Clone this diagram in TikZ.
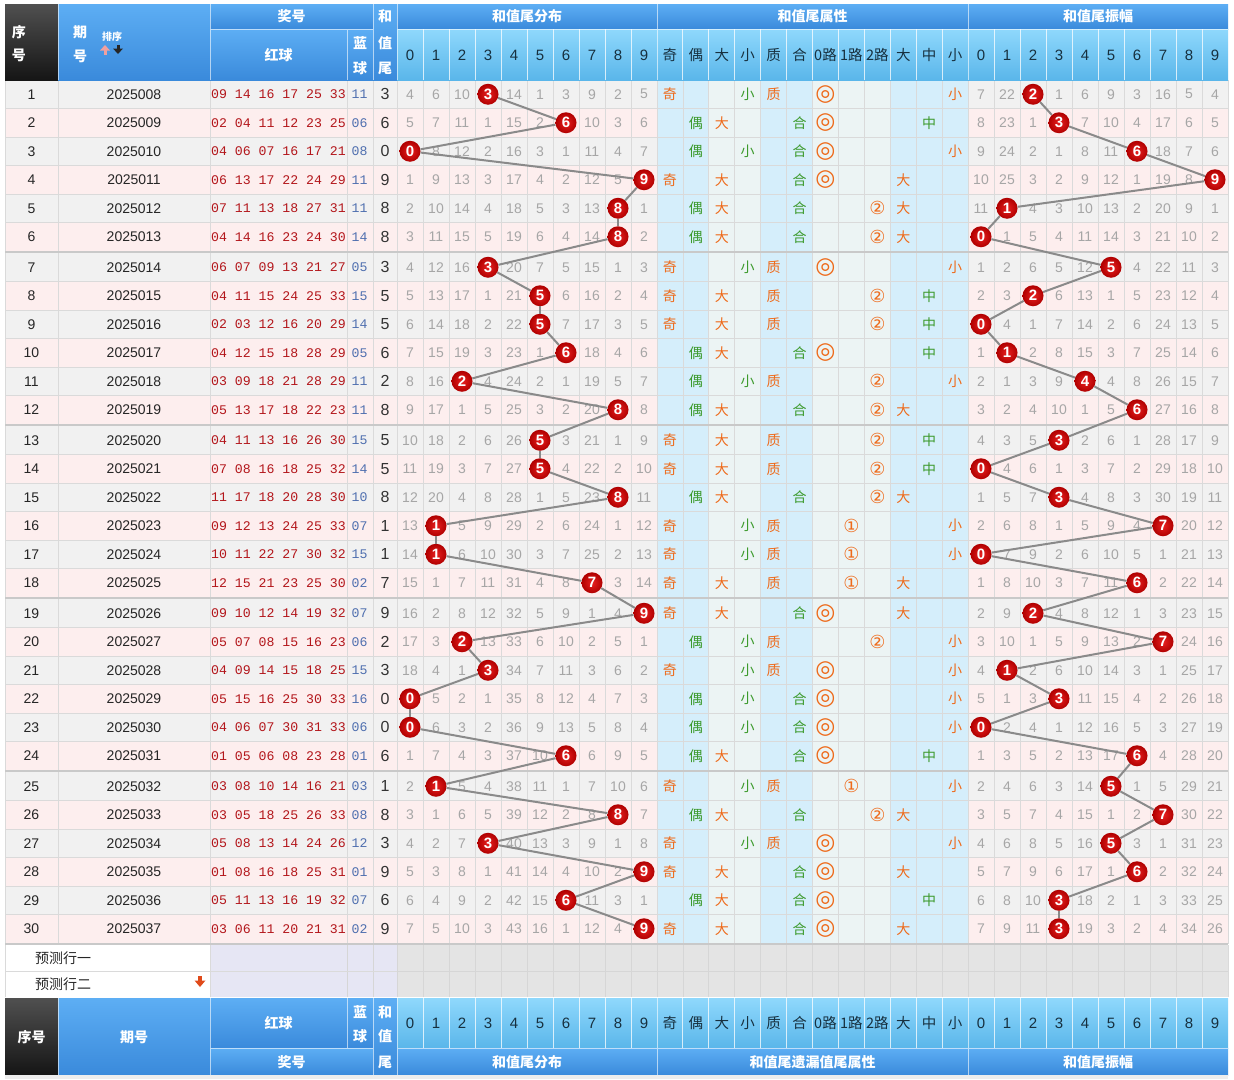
\documentclass[tikz,border=0pt]{standalone}
\usepackage{fontspec}
\setmainfont{Liberation Sans}
\newfontfamily\cjk{Noto Sans CJK SC}
\newfontfamily\symf{DejaVu Sans}
\newfontfamily\monof{Liberation Mono}
\definecolor{hbTop}{HTML}{5DAEF4}
\definecolor{hbBot}{HTML}{3A8ADB}
\definecolor{hlTop}{HTML}{8FD8FC}
\definecolor{hlBot}{HTML}{5AB6EA}
\definecolor{hdTop}{HTML}{505050}
\definecolor{hdBot}{HTML}{151515}
\definecolor{rowg}{HTML}{F1F1F1}
\definecolor{rowp}{HTML}{FDEEEE}
\definecolor{atb}{HTML}{D5EEFB}
\definecolor{atg}{HTML}{ECF4F4}
\definecolor{gridc}{HTML}{DADADA}
\definecolor{sepc}{HTML}{C9C9C9}
\definecolor{redt}{HTML}{B3161B}
\definecolor{bluet}{HTML}{4F6FAF}
\definecolor{omitc}{HTML}{A6A6A6}
\definecolor{orng}{HTML}{EE6A1A}
\definecolor{grn}{HTML}{3C9A2C}
\definecolor{ballin}{HTML}{E82020}
\definecolor{ballout}{HTML}{B00000}
\definecolor{linec}{HTML}{8A8A8A}
\definecolor{lav}{HTML}{E6E6F4}
\definecolor{predg}{HTML}{E4E4E4}
\definecolor{predl}{HTML}{D6D6D6}
\definecolor{hdtext}{HTML}{17303F}
\definecolor{uparr}{HTML}{F0A0A0}
\definecolor{arrred}{HTML}{E04A1A}
\tikzset{
  hdrw/.style={text=white, font=\cjk\bfseries\fontsize{14}{14}\selectfont, inner sep=0},
  hdrd/.style={text=hdtext, font=\cjk\fontsize{14.5}{14.5}\selectfont, inner sep=0},
  hdrdig/.style={text=hdtext, font=\fontsize{15}{15}\selectfont, inner sep=0},
  numt/.style={text=black!85, font=\fontsize{14}{14}\selectfont, inner sep=0},
  redn/.style={text=redt, font=\monof\fontsize{13.2}{13.2}\selectfont, inner sep=0},
  blun/.style={text=bluet, font=\monof\fontsize{13.2}{13.2}\selectfont, inner sep=0},
  tailn/.style={text=black!80, font=\fontsize{16}{16}\selectfont, inner sep=0},
  omit/.style={text=omitc, font=\fontsize{14}{14}\selectfont, inner sep=0},
  ball/.style={circle, minimum size=21pt, inner sep=0, inner color=ballin, outer color=ballout, text=white, font=\bfseries\fontsize{15}{15}\selectfont},
  attro/.style={text=orng, font=\cjk\fontsize{14}{14}\selectfont, inner sep=0},
  attrg/.style={text=grn, font=\cjk\fontsize{14}{14}\selectfont, inner sep=0},
  roadsym/.style={text=orng, font=\symf\fontsize{18}{18}\selectfont, inner sep=0},
  dblsym/.style={text=orng, font=\symf\fontsize{23}{23}\selectfont, inner sep=0},
  predt/.style={text=black!85, font=\cjk\fontsize{14}{14}\selectfont, inner sep=0, anchor=west},
  conn/.style={draw=linec, line width=2pt},
  gridl/.style={draw=gridc, line width=0.8pt},
  sepl/.style={draw=sepc, line width=2.6pt},
  hsep/.style={draw=white, line width=1pt, opacity=0.6},
}
\def\initd{3,5,9,0,13,0,2,8,1,4}
\def\inita{6,21,0,0,5,8,2,15,4,3}
\begin{document}
\begin{tikzpicture}[x=1pt,y=-1pt]
\useasboundingbox (0,0) rectangle (1234,1079);
\fill[white] (0,0) rectangle (1234,1079);
% ---------- row backgrounds
\foreach \kk in {1,...,30} {
  \pgfmathsetmacro\yt{80+173*floor((\kk-1)/6)+28.5*mod(\kk-1,6)}
  \pgfmathsetmacro\yb{\yt+28.5}
  \ifodd\kk\relax \def\rc{rowg}\else\def\rc{rowp}\fi
  \fill[\rc] (5,\yt) rectangle (657,\yb);
  \fill[\rc] (968,\yt) rectangle (1228,\yb);
}
\fill[atb] (657,80) rectangle (708.84,944);
\fill[atg] (708.84,80) rectangle (760.68,944);
\fill[atb] (760.68,80) rectangle (812.52,944);
\fill[atg] (812.52,80) rectangle (890.28,944);
\fill[atb] (890.28,80) rectangle (968,944);
% prediction rows
\fill[white] (5,945) rectangle (210,997);
\fill[lav] (210,945) rectangle (397,997);
\fill[predg] (397,945) rectangle (1228,997);
% ---------- grid
\foreach \xx in {5,58,210,347,373,397,423,449,475,501,527,553,579,605,631,657,682.92,708.84,734.76,760.68,786.6,812.52,838.44,864.36,890.28,916.2,942.12,968,994,1020,1046,1072,1098,1124,1150,1176,1202,1228}
  \draw[gridl] (\xx,80) -- (\xx,944);
\foreach \xx in {347,373,397,423,449,475,501,527,553,579,605,631,657,682.92,708.84,734.76,760.68,786.6,812.52,838.44,864.36,890.28,916.2,942.12,968,994,1020,1046,1072,1098,1124,1150,1176,1202}
  \draw[draw=predl, line width=0.8pt] (\xx,945) -- (\xx,997);
\draw[gridl] (5,945) -- (5,997) (210,945) -- (210,997) (1228,945) -- (1228,997);
\draw[gridl] (5,971) -- (397,971);
\draw[draw=predl, line width=0.8pt] (397,971) -- (1228,971);
\foreach \kk in {1,...,30} {
  \pgfmathsetmacro\yb{80+173*floor((\kk-1)/6)+28.5*mod(\kk-1,6)+28.5}
  \draw[gridl] (5,\yb) -- (1228,\yb);
}
\foreach \g in {1,...,5} {
  \pgfmathsetmacro\ys{80+173*\g-1}
  \draw[sepl] (5,\ys) -- (1228,\ys);
}
% ---------- data
\foreach \v [count=\i from 0] in \initd {\expandafter\xdef\csname dv\i\endcsname{\v}}
\foreach \v [count=\i from 0] in \inita {\expandafter\xdef\csname av\i\endcsname{\v}}
\foreach \kk/\per/\reds/\blu/\tail/\am in {
1/2025008/{09 14 16 17 25 33}/11/3/2,
2/2025009/{02 04 11 12 23 25}/06/6/3,
3/2025010/{04 06 07 16 17 21}/08/0/6,
4/2025011/{06 13 17 22 24 29}/11/9/9,
5/2025012/{07 11 13 18 27 31}/11/8/1,
6/2025013/{04 14 16 23 24 30}/14/8/0,
7/2025014/{06 07 09 13 21 27}/05/3/5,
8/2025015/{04 11 15 24 25 33}/15/5/2,
9/2025016/{02 03 12 16 20 29}/14/5/0,
10/2025017/{04 12 15 18 28 29}/05/6/1,
11/2025018/{03 09 18 21 28 29}/11/2/4,
12/2025019/{05 13 17 18 22 23}/11/8/6,
13/2025020/{04 11 13 16 26 30}/15/5/3,
14/2025021/{07 08 16 18 25 32}/14/5/0,
15/2025022/{11 17 18 20 28 30}/10/8/3,
16/2025023/{09 12 13 24 25 33}/07/1/7,
17/2025024/{10 11 22 27 30 32}/15/1/0,
18/2025025/{12 15 21 23 25 30}/02/7/6,
19/2025026/{09 10 12 14 19 32}/07/9/2,
20/2025027/{05 07 08 15 16 23}/06/2/7,
21/2025028/{04 09 14 15 18 25}/15/3/1,
22/2025029/{05 15 16 25 30 33}/16/0/3,
23/2025030/{04 06 07 30 31 33}/06/0/0,
24/2025031/{01 05 06 08 23 28}/01/6/6,
25/2025032/{03 08 10 14 16 21}/03/1/5,
26/2025033/{03 05 18 25 26 33}/08/8/7,
27/2025034/{05 08 13 14 24 26}/12/3/5,
28/2025035/{01 08 16 18 25 31}/01/9/6,
29/2025036/{05 11 13 16 19 32}/07/6/3,
30/2025037/{03 06 11 20 21 31}/02/9/3} {
  \pgfmathsetmacro\yc{80+173*floor((\kk-1)/6)+28.5*mod(\kk-1,6)+14.25}
  \node[numt] (sn\kk) at (31.5,\yc) {\kk};
  \node[numt] (pn\kk) at (134,\yc) {\per};
  \node[redn] (rb\kk) at (278.5,\yc) {\reds};
  \node[blun] (bb\kk) at (359.5,\yc) {\blu};
  \node[tailn] (tn\kk) at (385,\yc) {\tail};
  \foreach \cc in {0,...,9} {
    \pgfmathsetmacro\xx{410+26*\cc}
    \ifnum\cc=\tail\relax
      \node[ball] (d\kk) at (\xx,\yc) {\cc};
      \expandafter\xdef\csname dv\cc\endcsname{0}%
    \else
      \edef\nv{\the\numexpr\csname dv\cc\endcsname+1\relax}%
      \expandafter\xdef\csname dv\cc\endcsname{\nv}%
      \node[omit] (dn\kk-\cc) at (\xx,\yc) {\nv};
    \fi
  }
  \foreach \cc in {0,...,9} {
    \pgfmathsetmacro\xx{981+26*\cc}
    \ifnum\cc=\am\relax
      \node[ball] (a\kk) at (\xx,\yc) {\cc};
      \expandafter\xdef\csname av\cc\endcsname{0}%
    \else
      \edef\nv{\the\numexpr\csname av\cc\endcsname+1\relax}%
      \expandafter\xdef\csname av\cc\endcsname{\nv}%
      \node[omit] (an\kk-\cc) at (\xx,\yc) {\nv};
    \fi
  }
  \ifodd\tail\relax \node[attro] (oe\kk) at (669.96,\yc) {奇};\else \node[attrg] (oe\kk) at (695.88,\yc) {偶};\fi
  \ifnum\tail>4\relax \node[attro] (bs\kk) at (721.8,\yc) {大};\else \node[attrg] (bs\kk) at (747.72,\yc) {小};\fi
  \ifcase\tail\relax \def\zh{0}\or\def\zh{1}\or\def\zh{1}\or\def\zh{1}\or\def\zh{0}\or\def\zh{1}\or\def\zh{0}\or\def\zh{1}\or\def\zh{0}\or\def\zh{0}\fi
  \ifnum\zh=1\relax \node[attro] (pc\kk) at (773.64,\yc) {质};\else \node[attrg] (pc\kk) at (799.56,\yc) {合};\fi
  \pgfmathtruncatemacro\rd{mod(\tail,3)}
  \ifcase\rd\relax \node[dblsym] (rd\kk) at (825.48,\yc) {◎};\or \node[roadsym] (rd\kk) at (851.4,\yc) {①};\or \node[roadsym] (rd\kk) at (877.32,\yc) {②};\fi
  \ifnum\tail>6\relax \node[attro] (bm\kk) at (903.24,\yc) {大};\else\ifnum\tail>3\relax \node[attrg] (bm\kk) at (929.16,\yc) {中};\else \node[attro] (bm\kk) at (955.08,\yc) {小};\fi\fi
}
\foreach \kk [evaluate=\kk as \nk using int(\kk+1)] in {1,...,29} {
  \draw[conn] (d\kk) -- (d\nk);
  \draw[conn] (a\kk) -- (a\nk);
}
% prediction texts
\node[predt] (pr1) at (35,958) {预测行一};
\node[predt] (pr2) at (35,984) {预测行二};
\fill[arrred] (198,976) rectangle (202,981);
\fill[arrred] (194.5,980.5) -- (205.5,980.5) -- (200,987) -- cycle;
% ---------- header
\shade[top color=hdTop,bottom color=hdBot] (5,4) rectangle (58,80);
\shade[top color=hbTop,bottom color=hbBot] (58,4) rectangle (210,80);
\shade[top color=hbTop,bottom color=hbBot] (210,4) rectangle (373,29);
\shade[top color=hbTop,bottom color=hbBot] (210,29) rectangle (373,80);
\shade[top color=hbTop,bottom color=hbBot] (373,4) rectangle (397,80);
\shade[top color=hbTop,bottom color=hbBot] (397,4) rectangle (1228,29);
\shade[top color=hlTop,bottom color=hlBot] (397,29) rectangle (1228,80);
\draw[hsep] (210,4) -- (210,80) (373,4) -- (373,80) (397,4) -- (397,80) (657,4) -- (657,80) (968,4) -- (968,80)
  (347,29) -- (347,80) (210,29) -- (373,29) (397,29) -- (1228,29) (58,4) -- (58,80);
\foreach \xx in {423,449,475,501,527,553,579,605,631,682.92,708.84,734.76,760.68,786.6,812.52,838.44,864.36,890.28,916.2,942.12,994,1020,1046,1072,1098,1124,1150,1176,1202}
  \draw[draw=white, line width=0.9pt, opacity=0.75] (\xx,29) -- (\xx,80);
\node[hdrw] (hx1) at (19,32) {序};
\node[hdrw] (hx2) at (19,55) {号};
\node[hdrw] (hq1) at (80,32) {期};
\node[hdrw] (hq2) at (80,56) {号};
\node[text=white, font=\cjk\bfseries\fontsize{10}{10}\selectfont, inner sep=0] (hsort) at (112,37) {排序};
\fill[uparr] (103.5,50) rectangle (106.5,55);
\fill[uparr] (100,50.5) -- (110,50.5) -- (105,45) -- cycle;
\fill[black!85] (116.5,44.5) rectangle (119.5,49);
\fill[black!85] (113,48.5) -- (123,48.5) -- (118,54) -- cycle;
\node[hdrw] (hj) at (291.5,16.5) {奖号};
\node[hdrw] (hr) at (278.5,55) {红球};
\node[hdrw] (hb1) at (360,43) {蓝};
\node[hdrw] (hb2) at (360,68) {球};
\node[hdrw] (ht1) at (385,16) {和};
\node[hdrw] (ht2) at (385,43) {值};
\node[hdrw] (ht3) at (385,68) {尾};
\node[hdrw] (hg1) at (527,16.5) {和值尾分布};
\node[hdrw] (hg2) at (812.5,16.5) {和值尾属性};
\node[hdrw] (hg3) at (1098,16.5) {和值尾振幅};
% ---------- footer
\shade[top color=hdTop,bottom color=hdBot] (5,998) rectangle (58,1075);
\shade[top color=hbTop,bottom color=hbBot] (58,998) rectangle (210,1075);
\shade[top color=hbTop,bottom color=hbBot] (210,998) rectangle (373,1048);
\shade[top color=hbTop,bottom color=hbBot] (210,1048) rectangle (373,1075);
\shade[top color=hbTop,bottom color=hbBot] (373,998) rectangle (397,1075);
\shade[top color=hlTop,bottom color=hlBot] (397,998) rectangle (1228,1048);
\shade[top color=hbTop,bottom color=hbBot] (397,1048) rectangle (1228,1075);
\fill[black!7] (5,1075) rectangle (1228,1079);
\draw[hsep] (58,998) -- (58,1075) (210,998) -- (210,1075) (373,998) -- (373,1075) (397,998) -- (397,1075)
  (657,998) -- (657,1075) (968,998) -- (968,1075) (347,998) -- (347,1048) (210,1048) -- (373,1048) (397,1048) -- (1228,1048);
\foreach \xx in {423,449,475,501,527,553,579,605,631,682.92,708.84,734.76,760.68,786.6,812.52,838.44,864.36,890.28,916.2,942.12,994,1020,1046,1072,1098,1124,1150,1176,1202}
  \draw[draw=white, line width=0.9pt, opacity=0.75] (\xx,998) -- (\xx,1048);
\foreach \cc in {0,...,9} {
  \node[hdrdig] (hdd\cc) at (410+26*\cc,55) {\cc};
  \node[hdrdig] (hda\cc) at (981+26*\cc,55) {\cc};
  \node[hdrdig] (fdd\cc) at (410+26*\cc,1023) {\cc};
  \node[hdrdig] (fda\cc) at (981+26*\cc,1023) {\cc};
}
\foreach \lab [count=\i from 0] in {奇,偶,大,小,质,合,0路,1路,2路,大,中,小} {
  \pgfmathsetmacro\xx{669.96+25.92*\i}
  \node[hdrd] (hat\i) at (\xx,55) {\lab};
  \node[hdrd] (fat\i) at (\xx,1023) {\lab};
}
\node[hdrw] (fx) at (31.5,1037) {序号};
\node[hdrw] (fq) at (134,1037) {期号};
\node[hdrw] (fr) at (278.5,1023) {红球};
\node[hdrw] (fb1) at (360,1012) {蓝};
\node[hdrw] (fb2) at (360,1036) {球};
\node[hdrw] (ft1) at (385,1012) {和};
\node[hdrw] (ft2) at (385,1036) {值};
\node[hdrw] (ft3) at (385,1062) {尾};
\node[hdrw] (fj) at (291.5,1062) {奖号};
\node[hdrw] (fg1) at (527,1062) {和值尾分布};
\node[hdrw] (fg2) at (812.5,1062) {和值尾遗漏值尾属性};
\node[hdrw] (fg3) at (1098,1062) {和值尾振幅};
\end{tikzpicture}
\end{document}
